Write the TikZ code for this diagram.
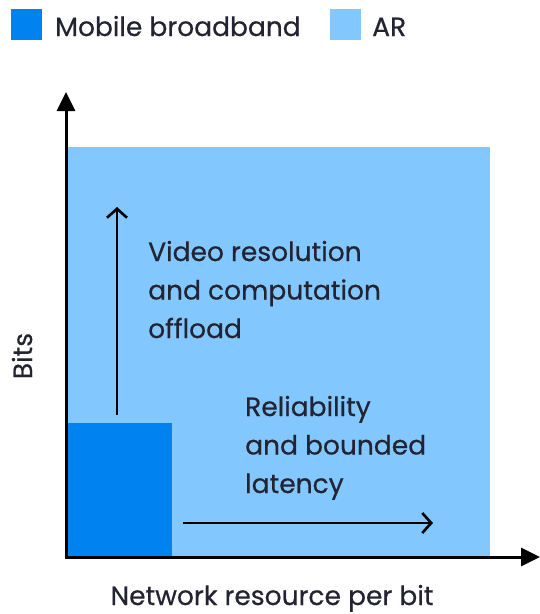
\documentclass[tikz,border=0pt]{standalone}
\usepackage{fontspec}
\setmainfont{Poppins}[FakeBold=0.5]
\usetikzlibrary{arrows.meta}
\definecolor{mbb}{RGB}{0,130,240}
\definecolor{arc}{RGB}{130,200,255}
\definecolor{txt}{RGB}{35,35,50}
\tikzset{
  lbl/.style={font=\fontsize{26.5}{38.5}\selectfont, text=txt, inner sep=0pt},
  para/.style={lbl, align=left, anchor=base west},
  axis/.style={line width=3pt, -{Triangle[length=19pt,width=18pt]}},
  trend/.style={line width=2.6pt, -{Straight Barb[length=9pt,width=20pt,line width=2.6pt]}},
  sw/.style={inner sep=0pt, minimum size=31pt}
}
\begin{document}
\begin{tikzpicture}[x=1pt,y=-1pt]
\useasboundingbox (0,0) rectangle (540,614);
% legend
\node[sw, fill=mbb] (sw1) at (26.5,24) {};
\node[lbl, anchor=base west] (l1) at (55,36) {Mobile broadband};
\node[sw, fill=arc] (sw2) at (345,24) {};
\node[lbl, anchor=base west] (l2) at (372,36) {AR};
% areas
\fill[arc] (66,147) rectangle (490,557);
\fill[mbb] (66,423) rectangle (172,557);
% axes
\coordinate (o) at (66,557);
\coordinate (yt) at (66,92);
\coordinate (xt) at (540,557);
\draw[axis] ([yshift=-1.5pt]o) -- (yt);
\draw[axis] ([xshift=-1.5pt]o) -- (xt);
% trend arrows
\coordinate (u0) at (117,415);
\coordinate (u1) at (117,207);
\draw[trend] (u0) -- (u1);
\coordinate (r0) at (183,523);
\coordinate (r1) at (433,523);
\draw[trend] (r0) -- (r1);
% texts (base anchor = baseline of the last line)
\node[para] (t1) at (148,338) {Video resolution\\and computation\\offload};
\node[para] (t2) at (245,493) {Reliability\\and bounded\\latency};
\node[lbl, rotate=90, anchor=base] (yl) at (32,356) {Bits};
\node[lbl, anchor=base] (xl) at (272,605) {Network resource per bit};
\end{tikzpicture}
\end{document}
